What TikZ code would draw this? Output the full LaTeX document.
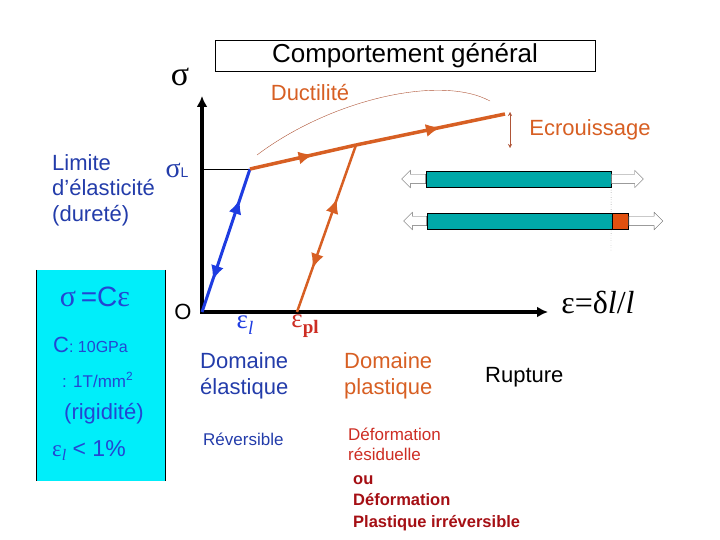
\documentclass[tikz,border=0pt]{standalone}
\usepackage{fontspec}
\setmainfont{Liberation Sans}
\newfontfamily\grk{Liberation Serif}
\usetikzlibrary{arrows.meta, positioning, shapes.arrows, decorations.markings}
\definecolor{cBlueLine}{RGB}{30,60,225}
\definecolor{cBlueTxt}{RGB}{35,60,170}
\definecolor{cBoxTxt}{RGB}{35,70,210}
\definecolor{cOrange}{RGB}{215,95,35}
\definecolor{cBrown}{RGB}{175,85,55}
\definecolor{cCyan}{RGB}{0,238,250}
\definecolor{cTeal}{RGB}{0,168,168}
\definecolor{cRedBlk}{RGB}{225,80,15}
\definecolor{cRed}{RGB}{205,45,35}
\definecolor{cDarkRed}{RGB}{165,15,20}

\begin{document}
\begin{tikzpicture}[x=1pt, y=-1pt,
            txt/.style={inner sep=0pt, font=\fontsize{22}{26}\selectfont},
            sml/.style={inner sep=0pt, font=\fontsize{17}{20}\selectfont},
            axis/.style={line width=4pt, {Latex[length=11pt,width=11pt]}-{Latex[length=11pt,width=11pt]}},
            onetip/.style={postaction={decorate}, decoration={markings,
                mark=at position #1 with {\arrow{Latex[length=15pt,width=13pt]}}}},
            twotips/.style 2 args={postaction={decorate}, decoration={markings,
                mark=at position #1 with {\arrow{Latex[length=15pt,width=13pt]}},
                mark=at position #2 with {\arrowreversed{Latex[length=15pt,width=13pt]}}}},
            bar/.style={draw=black, fill=cTeal, minimum width=185, minimum height=16, inner sep=0pt},
            harrow/.style={single arrow, draw=black!60, fill=white, inner xsep=0pt, inner ysep=4.5pt,
                single arrow head extend=4pt, minimum height=#1}]
            \useasboundingbox (0,0) rectangle (720,540);
            % title
            \node[draw, minimum width=380, minimum height=31, inner sep=0pt,
                  font=\fontsize{26}{26}\selectfont] (title) at (405,55.5) {Comportement général};
            % axes
            \coordinate (O) at (202,312);
            \coordinate (ytop) at (202,96);
            \coordinate (xend) at (548,312);
            \coordinate (sL) at (202,169);
            \coordinate (L) at (250,169);
            \coordinate (U) at (356,145);
            \coordinate (E) at (505,114);
            \coordinate (P) at (297,312);
            \draw[axis] (ytop) -- (O) -- (xend);
            \draw[thin] (sL) -- (L);
            \node[inner sep=0pt, font=\grk\fontsize{34}{34}\selectfont] (sig) at (180,77) {σ};
            \node[txt] (orig) at (183,312) {O};
            \node[inner sep=0pt, font=\grk\fontsize{32}{32}\selectfont] (eps) at (598,302) {ε=δ\textit{l}/\textit{l}};
            % curves
            \draw[cBlueLine, line width=3pt, twotips={0.79}{0.22}] (O) -- (L);
            \draw[cOrange, line width=3.5pt, onetip=0.6] (L) -- (U);
            \draw[cOrange, line width=3.5pt, onetip=0.57] (U) -- (E);
            \draw[cOrange, line width=2.5pt, twotips={0.68}{0.26}] (P) -- (U);
            % ductilite / ecrouissage
            \coordinate (duc1) at (257,155);
            \coordinate (duc2) at (490,101);
            \draw[cBrown, thin] (duc1) .. controls (330,100) and (440,74) .. (duc2);
            \node[txt, text=cOrange] (duct) at (310,93) {Ductilité};
            \coordinate (ecr1) at (510,112);
            \coordinate (ecr2) at (510,148);
            \draw[cBrown, thin, {Stealth[length=4pt,width=4pt]}-{Stealth[length=4pt,width=4pt]}] (ecr1) -- (ecr2);
            \node[txt, text=cOrange] (ecr) at (590,130) {Ecrouissage};
            % bars
            \node[bar] (topbar) at (518.5,179) {};
            \node[bar] (botbar) at (519.5,221) {};
            \node[draw=black, fill=cRedBlk, minimum width=16, minimum height=16, inner sep=0pt,
                  right=0pt of botbar] (ext) {};
            \node[harrow=24, shape border rotate=180, anchor=tail] (tl) at (topbar.west) {};
            \node[harrow=32, anchor=tail] (tr) at (topbar.east) {};
            \node[harrow=23, shape border rotate=180, anchor=tail] (bl) at (botbar.west) {};
            \node[harrow=34, anchor=tail] (br) at (ext.east) {};
            \coordinate (dotend) at (611,252);
            \draw[black!70, dotted] (topbar.north east) -- (dotend);
            % left texts
            \node[inner sep=0pt, text=cBlueTxt, align=left, font=\fontsize{22}{25.5}\selectfont,
                  anchor=west] (lim) at (52,190) {Limite\\d’élasticité\\(dureté)};
            \node[inner sep=0pt, text=cBlueTxt] (sigL) at (177,170)
                {{\grk\fontsize{28}{28}\selectfont σ}{\fontsize{14}{14}\selectfont L}};
            % box
            \node[fill=cCyan, minimum width=128, minimum height=211, inner sep=0pt] (cbox) at (101,375.5) {};
            \draw[line width=1.2pt] (cbox.north west) -- (cbox.south west);
            \draw[thin] (cbox.north east) -- (cbox.south east);
            \node[inner sep=0pt, text=cBoxTxt] (law) at (95,297)
                {{\grk\fontsize{30}{30}\selectfont σ}{\fontsize{28}{28}\selectfont\,=C}{\grk\fontsize{30}{30}\selectfont ε}};
            \node[inner sep=0pt, text=cBoxTxt, anchor=west] (cval) at (53,345)
                {{\fontsize{22}{22}\selectfont C}{\fontsize{16}{16}\selectfont: 10GPa}};
            \node[inner sep=0pt, text=cBoxTxt, anchor=west, font=\fontsize{17}{17}\selectfont] (tval) at (62,380)
                {: 1T/mm\textsuperscript{2}};
            \node[inner sep=0pt, text=cBoxTxt, anchor=west, font=\fontsize{22}{22}\selectfont] (rig) at (64,414) {(rigidité)};
            \node[inner sep=0pt, text=cBoxTxt, anchor=west, font=\fontsize{23}{23}\selectfont] (lt) at (52,451)
                {{\grk ε\raisebox{-4pt}{\fontsize{16}{16}\selectfont\itshape l}} < 1\%};
            % strain labels
            \node[inner sep=0pt, text=cBlueLine] (epsl) at (245,325)
                {{\grk\fontsize{27}{27}\selectfont ε\raisebox{-6pt}{\fontsize{19}{19}\selectfont\itshape l}}};
            \node[inner sep=0pt, text=cRed] (epspl) at (305,326)
                {{\grk\fontsize{27}{27}\selectfont ε\raisebox{-6pt}{\fontsize{19}{19}\selectfont\bfseries pl}}};
            % bottom texts
            \node[txt, text=cBlueTxt, align=left, anchor=west] (del) at (200,376) {Domaine\\élastique};
            \node[txt, text=cOrange, align=left, anchor=west] (dpl) at (344,376) {Domaine\\plastique};
            \node[txt, anchor=west] (rup) at (485,377) {Rupture};
            \node[sml, text=cBlueTxt, anchor=west] (rev) at (203,439) {Réversible};
            \node[sml, text=cRed, align=left, anchor=west] (dres) at (348,444) {Déformation\\résiduelle};
            \node[inner sep=0pt, text=cDarkRed, align=left, anchor=west,
                  font=\fontsize{16.5}{21.5}\selectfont\bfseries] (irr) at (353,503) {ou\\Déformation\\Plastique irréversible};
        \end{tikzpicture}
\end{document}
